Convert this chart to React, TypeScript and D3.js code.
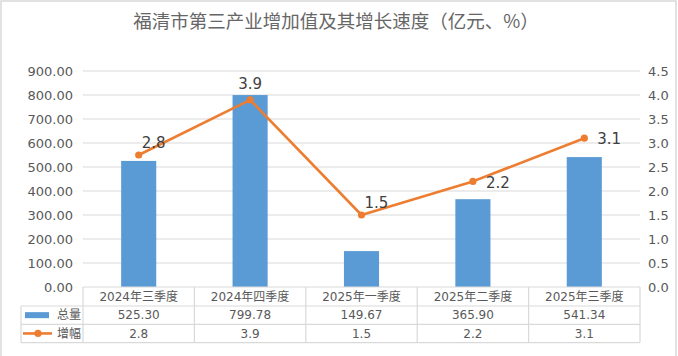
import React from "react";
import * as d3 from "d3";

const title = "福清市第三产业增加值及其增长速度（亿元、%）";
const categories = ["2024年三季度", "2024年四季度", "2025年一季度", "2025年二季度", "2025年三季度"];
const totalValues = [525.30, 799.78, 149.67, 365.90, 541.34];
const growthValues = [2.75, 3.9, 1.5, 2.2, 3.1];
const leftTicks = [0, 100, 200, 300, 400, 500, 600, 700, 800, 900];
const rightTicks = [0, 0.5, 1, 1.5, 2, 2.5, 3, 3.5, 4, 4.5];
const seriesNames = ["总量", "增幅"];
const labelPlacement = ["aboveRight", "above", "aboveRight", "right", "right"];

const W = 678, H = 356;
const BLUE = "#5B9BD5", ORANGE = "#ED7D31";
const GRID = "#d9d9d9", TXT = "#595959";
const FONT = "'DejaVu Sans', 'Noto Sans CJK SC', sans-serif";

export default function App() {
  const left = 83, right = 640, top = 71, bottom = 287;
  const x = d3.scaleBand<string>().domain(categories).range([left, right]).padding(0);
  const yL = d3.scaleLinear().domain([0, 900]).range([bottom, top]);
  const yR = d3.scaleLinear().domain([0, 4.5]).range([bottom, top]);
  const bw = x.bandwidth() * 0.315;
  const cx = (c: string) => (x(c) as number) + x.bandwidth() / 2;
  const line = d3.line<number>().x((_, i) => cx(categories[i])).y((d) => yR(d));

  const rowH = 18.3;
  const r0 = bottom, r1 = bottom + 19, r2 = r1 + rowH, r3 = r2 + rowH;
  const legendLeft = 21;

  return (
    <svg width={W} height={H} style={{ position: "absolute", left: 0, top: 0, background: "#fff" }} fontFamily={FONT}>
      <rect x={1} y={1} width={675} height={H + 10} fill="#fff" stroke={GRID} strokeWidth={1.5} />
      <text x={336} y={28} textAnchor="middle" fontSize={18.5} fill="#666" fontFamily="'Noto Sans CJK SC', sans-serif">{title}</text>

      {leftTicks.filter((t) => t > 0).map((t) => (
        <line key={t} x1={left} x2={right} y1={yL(t)} y2={yL(t)} stroke={GRID} strokeWidth={1} />
      ))}
      {leftTicks.map((t) => (
        <text key={t} x={73} y={yL(t)} dy="0.35em" textAnchor="end" fontSize={13} fill={TXT}>{d3.format(".2f")(t)}</text>
      ))}
      {rightTicks.map((t) => (
        <text key={t} x={648} y={yR(t)} dy="0.35em" textAnchor="start" fontSize={13} fill={TXT}>{d3.format(".1f")(t)}</text>
      ))}

      {categories.map((c, i) => (
        <rect key={c} x={cx(c) - bw / 2} y={yL(totalValues[i])} width={bw} height={bottom - yL(totalValues[i])} fill={BLUE} />
      ))}

      <path d={line(growthValues) || ""} fill="none" stroke={ORANGE} strokeWidth={2.6} strokeLinejoin="round" />
      {growthValues.map((v, i) => (
        <circle key={i} cx={cx(categories[i])} cy={yR(v)} r={3.6} fill={ORANGE} />
      ))}
      {growthValues.map((v, i) => {
        const px = cx(categories[i]), py = yR(v);
        const p = labelPlacement[i];
        let tx = px, ty = py - 16, anchor: "middle" | "start" = "middle";
        if (p === "aboveRight") { tx = px + 15; ty = py - 12; }
        if (p === "right") { tx = px + 13; ty = py + 1; anchor = "start"; }
        return (
          <text key={i} x={tx} y={ty} dy="0.35em" textAnchor={anchor} fontSize={15} fill="#404040">{d3.format(".1f")(v)}</text>
        );
      })}

      {/* data table */}
      <g stroke={GRID} strokeWidth={1.2} fill="none">
        <line x1={left} x2={right} y1={r0} y2={r0} />
        <line x1={legendLeft} x2={right} y1={r1} y2={r1} />
        <line x1={legendLeft} x2={right} y1={r2} y2={r2} />
        <line x1={legendLeft} x2={right} y1={r3} y2={r3} />
        <line x1={legendLeft} x2={legendLeft} y1={r1} y2={r3} />
        {categories.map((c) => (
          <line key={c} x1={x(c) as number} x2={x(c) as number} y1={r0} y2={r3} />
        ))}
        <line x1={right} x2={right} y1={r0} y2={r3} />
      </g>
      {categories.map((c, i) => (
        <g key={c} fontSize={12} fill={TXT} textAnchor="middle">
          <text x={cx(c)} y={(r0 + r1) / 2} dy="0.35em">{c}</text>
          <text x={cx(c)} y={(r1 + r2) / 2} dy="0.35em">{d3.format(".2f")(totalValues[i])}</text>
          <text x={cx(c)} y={(r2 + r3) / 2} dy="0.35em">{d3.format(".1f")(growthValues[i])}</text>
        </g>
      ))}
      <rect x={25} y={(r1 + r2) / 2 - 3} width={24} height={6} fill={BLUE} />
      <text x={57} y={(r1 + r2) / 2} dy="0.35em" fontSize={12} fill={TXT} fontFamily="'Noto Sans CJK SC', sans-serif">{seriesNames[0]}</text>
      <line x1={23} x2={52} y1={(r2 + r3) / 2} y2={(r2 + r3) / 2} stroke={ORANGE} strokeWidth={2.6} />
      <circle cx={38} cy={(r2 + r3) / 2} r={3.6} fill={ORANGE} />
      <text x={57} y={(r2 + r3) / 2} dy="0.35em" fontSize={12} fill={TXT} fontFamily="'Noto Sans CJK SC', sans-serif">{seriesNames[1]}</text>
    </svg>
  );
}
